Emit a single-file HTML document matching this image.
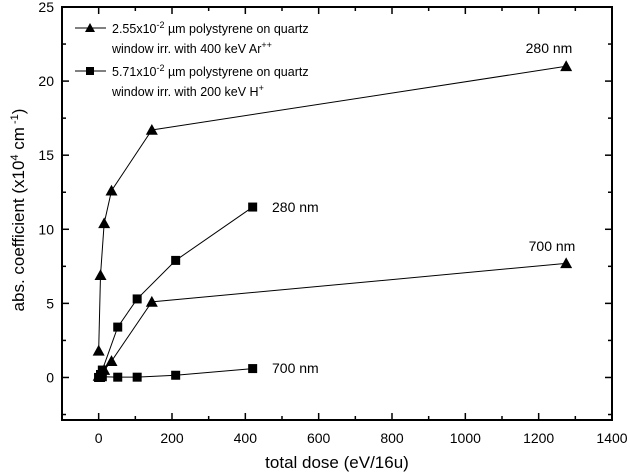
<!DOCTYPE html>
<html><head><meta charset="utf-8"><style>
body{margin:0;background:#fff;}
svg{display:block;font-family:"Liberation Sans",Arial,sans-serif;}
</style></head><body>
<svg id="c" width="630" height="473"></svg>
<script>
const xTicks=[0,200,400,600,800,1000,1200,1400];
const yTicks=[0,5,10,15,20,25];
const triX=[0,5,15,35,145,1275];
const tri280=[1.8,6.9,10.4,12.6,16.7,21.0];
const tri700=[0.1,0.3,0.5,1.1,5.1,7.7];
const sqX=[0,5,10,52,105,210,420];
const sq280=[0,0.2,0.5,3.4,5.3,7.9,11.5];
const sq700=[0,0,0.05,0.02,0.02,0.15,0.6];

const L=62,R=612,T=7,B=420;
const xmin=-100,xmax=1400,ymin=-2.87,ymax=25;
const X=v=>L+(v-xmin)/(xmax-xmin)*(R-L);
const Y=v=>B-(v-ymin)/(ymax-ymin)*(B-T);
const svg=document.getElementById('c');
const NS='http://www.w3.org/2000/svg';
function mk(t,a,p){const e=document.createElementNS(NS,t);for(const k in a)e.setAttribute(k,a[k]);(p||svg).appendChild(e);return e;}

const frame=mk('rect',{x:L,y:T,width:R-L,height:B-T,fill:'none',stroke:'#000','stroke-width':2});



for(let v=-100;v<=1400;v+=100){
  const major=xTicks.includes(v);const len=major?7:4;
  mk('line',{x1:X(v),x2:X(v),y1:B,y2:B-len,stroke:'#000','stroke-width':1.5});
  mk('line',{x1:X(v),x2:X(v),y1:T,y2:T+len,stroke:'#000','stroke-width':1.5});
}
xTicks.forEach(v=>{
  const t=mk('text',{x:X(v),y:443,'text-anchor':'middle','font-size':14});
  t.textContent=v;
  
  
});
for(let v=-2.5;v<=25;v+=2.5){
  const major=yTicks.includes(v);const len=major?7:4;
  mk('line',{x1:L,x2:L+len,y1:Y(v),y2:Y(v),stroke:'#000','stroke-width':1.5});
  mk('line',{x1:R,x2:R-len,y1:Y(v),y2:Y(v),stroke:'#000','stroke-width':1.5});
}
yTicks.forEach(v=>{
  const t=mk('text',{x:L-8,y:Y(v)+5,'text-anchor':'end','font-size':14});
  t.textContent=v;
  
  
});
const xt=mk('text',{x:337,y:468,'text-anchor':'middle','font-size':17});
xt.textContent='total dose (eV/16u)';


const yt=mk('text',{x:0,y:0,'text-anchor':'middle','font-size':17,transform:'translate(24,210) rotate(-90)'});
yt.innerHTML='abs. coefficient (x10<tspan dy="-6" font-size="11">4</tspan><tspan dy="6"> cm</tspan><tspan dy="-6" font-size="11"> -1</tspan><tspan dy="6">)</tspan>';



function tri(cx,cy,s){return `${cx},${cy-s} ${cx-s},${cy+s*0.8} ${cx+s},${cy+s*0.8}`;}
function series(xs,ys,shape,name){
  const g=mk('g',{});
  
  
  mk('polyline',{points:xs.map((x,i)=>X(x)+','+Y(ys[i])).join(' '),fill:'none',stroke:'#000','stroke-width':1},g);
  xs.forEach((x,i)=>{
    let m;
    if(shape==='tri') m=mk('polygon',{points:tri(X(x),Y(ys[i]),6),fill:'#000'},g);
    else m=mk('rect',{x:X(x)-4.5,y:Y(ys[i])-4.5,width:9,height:9,fill:'#000'},g);
    
    
  });
}
series(triX,tri280,'tri','triangle-280nm-series');
series(triX,tri700,'tri','triangle-700nm-series');
series(sqX,sq280,'sq','square-280nm-series');
series(sqX,sq700,'sq','square-700nm-series');

function label(x,y,s,n,anchor){const t=mk('text',{x:x,y:y,'font-size':14,'text-anchor':anchor||'start'});t.textContent=s;
  
  }
label(549,53,'280 nm','label-280nm-triangle','middle');
label(272,212,'280 nm','label-280nm-square');
label(552,251,'700 nm','label-700nm-triangle','middle');
label(272,373,'700 nm','label-700nm-square');

// legend
const lg=mk('g',{});


mk('line',{x1:75,x2:106,y1:28,y2:28,stroke:'#000'},lg);
mk('polygon',{points:tri(90,28,5),fill:'#000'},lg);
mk('line',{x1:75,x2:106,y1:71,y2:71,stroke:'#000'},lg);
mk('rect',{x:86,y:67,width:8,height:8,fill:'#000'},lg);
const l1=mk('text',{x:112,y:33,'font-size':12.5},lg);
l1.innerHTML='2.55x10<tspan dy="-5" font-size="9">-2</tspan><tspan dy="5"> µm polystyrene on quartz</tspan>';
const l2=mk('text',{x:112,y:53,'font-size':12.5},lg);
l2.innerHTML='window irr. with 400 keV Ar<tspan dy="-5" font-size="9">++</tspan>';
const l3=mk('text',{x:112,y:76,'font-size':12.5},lg);
l3.innerHTML='5.71x10<tspan dy="-5" font-size="9">-2</tspan><tspan dy="5"> µm polystyrene on quartz</tspan>';
const l4=mk('text',{x:112,y:96,'font-size':12.5},lg);
l4.innerHTML='window irr. with 200 keV H<tspan dy="-5" font-size="9">+</tspan>';
[l1,l2,l3,l4].forEach(e=>{
  
  
});
</script>
</body></html>
